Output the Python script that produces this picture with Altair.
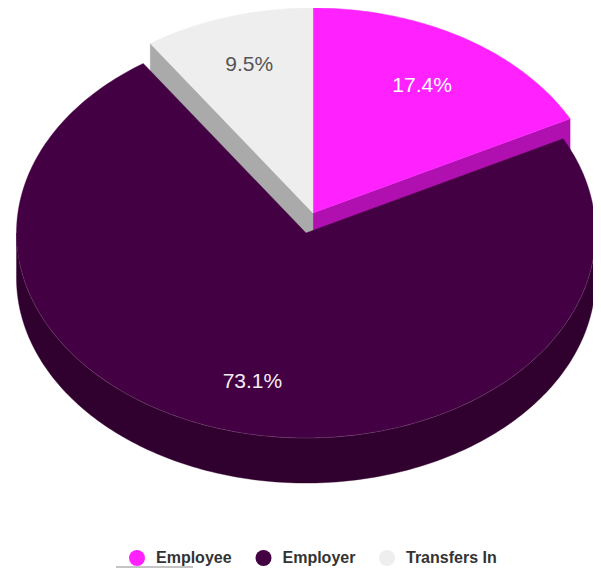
import math
import altair as alt
import pandas as pd

# ---- values
categories = ["Employee", "Employer", "Transfers In"]
shares = [17.4, 73.1, 9.5]
top_colors = ["#ff22ff", "#430042", "#eeeeee"]
wall_colors = ["#b010b0", "#30002e", "#aaaaaa"]
label_colors = ["#ffffff", "#f4eef4", "#555555"]

# ---- layout (pixels of the page)
W, H = 585, 561
CX, CY = 306.0, 233.0          # centre of the pie's top face
RX, RY = 289.5, 205.0          # radii of the top ellipse
DEPTH = 45.0 / RY              # wall height in y units
EXPLODE = {"Employee": (7.0 / RX, 20.0 / RY), "Employer": (0.0, 0.0), "Transfers In": (7.0 / RX, 20.0 / RY)}
LABEL_R = 0.725
LABEL_DX = {"Employee": 0.0, "Employer": -2.0 / RX, "Transfers In": -2.0 / RX}
LABEL_DY = {"Employee": 0.0, "Employer": -5.0 / RY, "Transfers In": 6.0 / RY}

x_domain = [(8 - CX) / RX, (8 + W - CX) / RX]
y_domain = [(CY - 8 - H) / RY, (CY - 8) / RY]


def pt(deg, off=(0.0, 0.0), drop=0.0):
    a = math.radians(deg)
    return off[0] + math.sin(a), off[1] + math.cos(a) - drop


def frange(a, b, step=1.0):
    n = max(2, int(abs(b - a) / step) + 1)
    return [a + (b - a) * i / (n - 1) for i in range(n)]


angles = {}
cum = 0.0
for c, s in zip(categories, shares):
    angles[c] = (cum * 3.6, (cum + s) * 3.6)
    cum += s

x_scale = alt.Scale(domain=x_domain, nice=False, zero=False)
y_scale = alt.Scale(domain=y_domain, nice=False, zero=False)


def poly(points, fill):
    df = pd.DataFrame({"x": [p[0] for p in points], "y": [p[1] for p in points], "i": range(len(points))})
    return alt.Chart(df).mark_line(
        fill=fill, stroke=fill, strokeWidth=0.4, interpolate="linear-closed", clip=False
    ).encode(
        x=alt.X("x:Q", scale=x_scale, axis=None),
        y=alt.Y("y:Q", scale=y_scale, axis=None),
        order="i:Q",
    )


def top_face(c):
    off = EXPLODE[c]
    a, b = angles[c]
    return [off] + [pt(t, off) for t in frange(a, b)]


def radial_wall(c, deg):
    off = EXPLODE[c]
    p0 = pt(deg, off)
    p1 = pt(deg, off, DEPTH)
    return [off, p0, p1, (off[0], off[1] - DEPTH)]


layers = []
# Employer outer wall (front half of the ellipse)
arc = frange(90, 270)
layers.append(poly([pt(t) for t in arc] + [pt(t, drop=DEPTH) for t in reversed(arc)], wall_colors[1]))
# cut faces of the two pulled-out slices
layers.append(poly(radial_wall("Employee", angles["Employee"][1]), wall_colors[0]))
layers.append(poly(radial_wall("Transfers In", angles["Transfers In"][0]), wall_colors[2]))
# top faces
layers.append(poly(top_face("Employer"), top_colors[1]))
layers.append(poly(top_face("Employee"), top_colors[0]))
layers.append(poly(top_face("Transfers In"), top_colors[2]))

# faint seam along the front rim
seam_t = frange(97, 262)
seam = pd.DataFrame({"x": [pt(t)[0] for t in seam_t], "y": [pt(t)[1] for t in seam_t], "i": range(len(seam_t))})
layers.append(
    alt.Chart(seam).mark_line(stroke="#ffffff", strokeWidth=0.5, opacity=0.25).encode(
        x=alt.X("x:Q", scale=x_scale, axis=None),
        y=alt.Y("y:Q", scale=y_scale, axis=None),
        order="i:Q",
    )
)

# percentage labels
lab = []
for c, s, col in zip(categories, shares, label_colors):
    a, b = angles[c]
    m = math.radians((a + b) / 2)
    off = EXPLODE[c]
    lab.append({"x": off[0] + LABEL_R * math.sin(m) + LABEL_DX[c], "y": off[1] + LABEL_R * math.cos(m) + LABEL_DY[c],
                "t": f"{s:.1f}%", "c": col})
layers.append(
    alt.Chart(pd.DataFrame(lab)).mark_text(font="Liberation Sans", fontSize=21, baseline="middle", align="center").encode(
        x=alt.X("x:Q", scale=x_scale, axis=None),
        y=alt.Y("y:Q", scale=y_scale, axis=None),
        text="t:N",
        color=alt.Color("c:N", scale=None),
    )
)

# legend, from invisible points sharing the category scale
legend_df = pd.DataFrame({"cat": categories, "x": [0.0] * 3, "y": [0.0] * 3})
layers.append(
    alt.Chart(legend_df).mark_point(filled=True, opacity=0, size=1).encode(
        x=alt.X("x:Q", scale=x_scale, axis=None),
        y=alt.Y("y:Q", scale=y_scale, axis=None),
        fill=alt.Fill(
            "cat:N",
            scale=alt.Scale(domain=categories, range=top_colors),
            legend=alt.Legend(
                title=None, orient="none", legendX=121, legendY=542, direction="horizontal",
                columns=3, columnPadding=23.5, symbolType="circle", symbolSize=256, symbolOpacity=1,
                symbolStrokeWidth=0, labelFont="Liberation Sans", labelFontSize=16, labelFontWeight="bold",
                labelColor="#333333", labelOffset=11, padding=0, labelLimit=200,
            ),
        ),
    )
)

# thin grey strip below the legend
layers.append(
    alt.Chart(pd.DataFrame({"a": [0]})).mark_rule(stroke="#c4c4c4", strokeWidth=2).encode(
        x=alt.value(108), x2=alt.value(185), y=alt.value(559)
    )
)

chart = alt.layer(*layers).properties(
    width=W, height=H, padding=0, autosize=alt.AutoSizeParams(type="none"), background="#ffffff"
).configure_view(stroke=None)

chart.save("out.html", embed_options={"renderer": "svg", "actions": False})
